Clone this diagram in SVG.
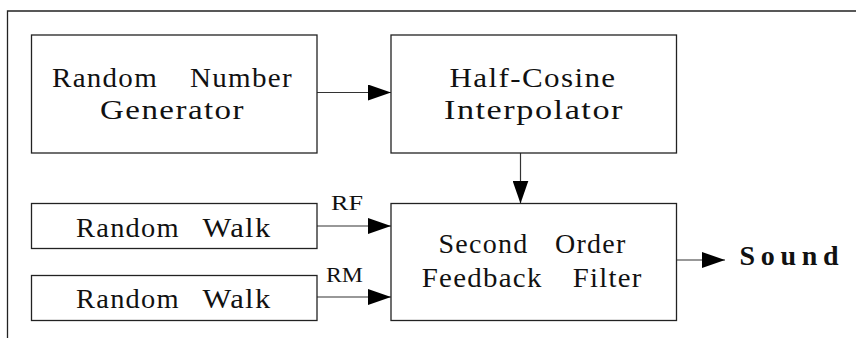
<svg xmlns="http://www.w3.org/2000/svg" width="856" height="338" viewBox="0 0 856 338">
  <style>
    .box { fill: #ffffff; stroke: #222222; stroke-width: 1.3; }
    .frame { fill: none; stroke: #222222; stroke-width: 1.3; }
    .wire { fill: none; stroke: #333333; stroke-width: 1.2; }
    .lbl { font-family: "Liberation Serif", "Times New Roman", serif; font-size: 27px; letter-spacing: 1.2px; fill: #111111; }
    .tag { font-family: "Liberation Serif", "Times New Roman", serif; font-size: 22px; fill: #111111; }
    .out { font-family: "Liberation Serif", "Times New Roman", serif; font-size: 28px; font-weight: bold; fill: #111111; }
  </style>
  <defs>
    <marker id="arrow" markerWidth="24" markerHeight="16" refX="23" refY="8" orient="auto" markerUnits="userSpaceOnUse">
      <path d="M0,0 L23,8 L0,16 Z" fill="#000000"/>
    </marker>
  </defs>
  <rect width="856" height="338" fill="#ffffff"/>

  <!-- outer frame (top and left edges) -->
  <path class="frame" d="M7.5,338 L7.5,11 L856,11"/>

  <!-- connectors -->
  <g id="connectors">
    <line class="wire" x1="317" y1="92.5" x2="391" y2="92.5" marker-end="url(#arrow)"/>
    <line class="wire" x1="520.5" y1="153" x2="520.5" y2="203.5" marker-end="url(#arrow)"/>
    <line class="wire" x1="317" y1="226" x2="391" y2="226" marker-end="url(#arrow)"/>
    <line class="wire" x1="317" y1="297" x2="391" y2="297" marker-end="url(#arrow)"/>
    <line class="wire" x1="677" y1="260" x2="725" y2="260" marker-end="url(#arrow)"/>
    <text class="tag" x="331" y="210" textLength="32" lengthAdjust="spacingAndGlyphs">RF</text>
    <text class="tag" x="326" y="281.5" textLength="37" lengthAdjust="spacingAndGlyphs">RM</text>
  </g>

  <g id="rng">
    <rect class="box" x="31.5" y="35" width="285.5" height="118"/>
    <text class="lbl" x="52" y="87" textLength="106" lengthAdjust="spacingAndGlyphs">Random</text>
    <text class="lbl" x="190" y="87" textLength="103" lengthAdjust="spacingAndGlyphs">Number</text>
    <text class="lbl" x="100" y="119" textLength="145" lengthAdjust="spacingAndGlyphs">Generator</text>
  </g>

  <g id="interpolator">
    <rect class="box" x="391" y="35" width="285.5" height="118"/>
    <text class="lbl" x="449.5" y="87" textLength="167" lengthAdjust="spacingAndGlyphs">Half-Cosine</text>
    <text class="lbl" x="444" y="118.5" textLength="180" lengthAdjust="spacingAndGlyphs">Interpolator</text>
  </g>

  <g id="walk-rf">
    <rect class="box" x="31.5" y="203.5" width="285.5" height="45"/>
    <text class="lbl" x="76" y="236.7" textLength="104" lengthAdjust="spacingAndGlyphs">Random</text>
    <text class="lbl" x="202.5" y="236.7" textLength="69" lengthAdjust="spacingAndGlyphs">Walk</text>
  </g>

  <g id="walk-rm">
    <rect class="box" x="31.5" y="275.5" width="285.5" height="45"/>
    <text class="lbl" x="76" y="308.3" textLength="104" lengthAdjust="spacingAndGlyphs">Random</text>
    <text class="lbl" x="202.5" y="308.3" textLength="69" lengthAdjust="spacingAndGlyphs">Walk</text>
  </g>

  <g id="filter">
    <rect class="box" x="391" y="203.5" width="285.5" height="117"/>
    <text class="lbl" x="438.5" y="253.3" textLength="90" lengthAdjust="spacingAndGlyphs">Second</text>
    <text class="lbl" x="555" y="253.3" textLength="71.5" lengthAdjust="spacingAndGlyphs">Order</text>
    <text class="lbl" x="421.7" y="286.7" textLength="121" lengthAdjust="spacingAndGlyphs">Feedback</text>
    <text class="lbl" x="572.7" y="286.7" textLength="70" lengthAdjust="spacingAndGlyphs">Filter</text>
  </g>

  <g id="sound">
    <text class="out" x="739.5" y="265" textLength="99" lengthAdjust="spacing">Sound</text>
  </g>
</svg>
